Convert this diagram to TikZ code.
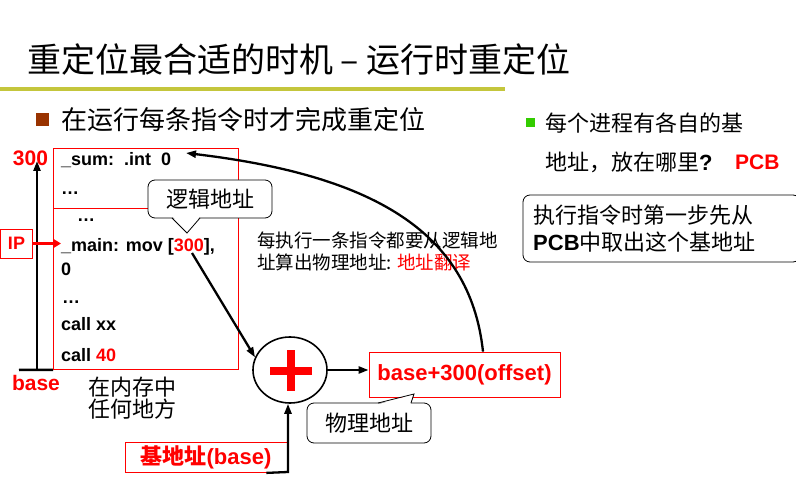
\documentclass[tikz,border=0pt]{standalone}
\usepackage{fontspec}
\setmainfont{Liberation Sans}
\newfontfamily\cjk{Noto Sans CJK SC}
\usetikzlibrary{arrows.meta,shapes.geometric}
\definecolor{rulegreen}{RGB}{196,198,60}
\definecolor{bulletbrown}{RGB}{153,51,0}
\definecolor{bulletgreen}{RGB}{51,204,0}
\newcommand{\fsz}[1]{\fontsize{#1}{#1}\selectfont}
\begin{document}
\begin{tikzpicture}[x=1pt,y=-1pt,
  code/.style={anchor=west, inner sep=0pt, font=\bfseries\fsz{18}},
  redlbl/.style={text=red, font=\bfseries\fsz{21}, inner sep=0pt},
  cjktext/.style={anchor=west, inner sep=0pt, font=\cjk\fsz{#1}},
  cjktext/.default=22,
  thickarrow/.style={line width=2.3pt, -{Triangle[length=10pt,width=7pt]}},
  callbox/.style={draw=black, fill=white, rounded corners=7pt, line width=0.8pt, inner sep=0pt},
  redbox/.style={draw=red, line width=0.8pt, inner sep=0pt},
]
\useasboundingbox (0,0) rectangle (796,484);

% heading and rule
\node[cjktext=34] (title) at (27,60) {重定位最合适的时机 – 运行时重定位};
\fill[rulegreen] (0,87.5) rectangle (505,91.5);

% first bullet
\fill[bulletbrown] (36,113) rectangle (49,126);
\node[cjktext=26] (bullet1) at (61,120) {在运行每条指令时才完成重定位};

% memory image of the program
\node[redbox, anchor=north west, minimum width=185pt, minimum height=221pt] (mem) at (53,148) {};
\draw[red, line width=0.8pt] (53,208) -- (238,208);
\node[code] (l1) at (61,160) {\_sum:\ \ .int\ \ 0};
\node[code] (l2) at (61,193) {\dots};
\node[code] (l3) at (77,220) {\dots};
\node[code] (l4) at (61,247) {\_main: mov [{\color{red}300}],};
\node[code] (l5) at (61,269.5) {0};
\node[code] (l6) at (62,302) {\dots};
\node[code] (l7) at (61,324.5) {call xx};
\node[code] (l8) at (61,355) {call {\color{red}40}};

% address axis on the left
\coordinate (axbot) at (37,370);
\coordinate (axtop) at (37,161);
\coordinate (axleft) at (19,370);
\draw[thickarrow] (axbot) -- (axtop);
\draw[line width=2.5pt] (axleft) -- (mem.south west);
\node[redlbl] (lbl300) at (30.5,158) {300};
\node[redlbl] (lblbase) at (36,383) {base};

% instruction pointer
\node[redbox, minimum width=32pt, minimum height=29pt, text=red, font=\bfseries\fsz{18}] (ip) at (16.5,243.5) {IP};
\coordinate (ipend) at (61,243.5);
\draw[red, line width=3.5pt, -{Triangle[length=7pt,width=8pt]}] (ip.east) -- (ipend);

% logical address callout
\node[callbox, minimum width=124pt, minimum height=38pt, font=\cjk\fsz{22}] (logic) at (210,199) {逻辑地址\hspace{16pt}};
\fill[white] (173,217) -- (187,233) -- (199.5,217) -- cycle;
\draw[line width=0.8pt] (172,218) -- (187,233) -- (200,218);

% explanation in the middle
\node[cjktext=18.5] (note1) at (257,240) {每执行一条指令都要从逻辑地};
\node[cjktext=18.5] (note2) at (257,262) {址算出物理地址: {\color{red}地址翻译}};

% adder
\node[draw, ellipse, line width=1.6pt, minimum width=74pt, minimum height=66pt] (adder) at (290,370) {};
\draw[red, line width=8pt] ([xshift=-20pt,yshift=-1pt]adder.center) -- ([xshift=22pt,yshift=-1pt]adder.center);
\draw[red, line width=8pt] ([xshift=1pt,yshift=20pt]adder.center) -- ([xshift=1pt,yshift=-21pt]adder.center);

\coordinate (movsrc) at (192,253);
\draw[thickarrow] (movsrc) -- (adder.160);

% physical address
\node[redbox, minimum width=191pt, minimum height=45pt, font=\bfseries\fsz{22}, text=red] (phys) at (464.5,374.5) {base+300(offset)\hspace{5pt}};
\draw[thickarrow] (adder.east) -- (adder.east -| phys.west);

\coordinate (sumtip) at (186,153);
\draw[thickarrow] ([xshift=18.5pt]phys.north) .. controls (470,230) and (370,175) .. (sumtip);

\node[callbox, minimum width=124pt, minimum height=40pt, font=\cjk\fsz{22}] (physcall) at (369,423) {物理地址\hspace{16pt}};
\fill[white] (379.5,404) -- (414,394) -- (410.5,404) -- cycle;
\draw[line width=0.8pt] (378,403) -- (414,394) -- (411,403);

% base register
\node[redbox, minimum width=162pt, minimum height=30pt, text=red] (basebox) at (206,457) {{\cjk\bfseries\fsz{22}基地址}{\bfseries\fsz{22}(base)}};
\coordinate (bstart) at ([xshift=-21pt,yshift=-0.5pt]basebox.south east);
\coordinate (bcorner) at (288,472);
\draw[thickarrow] (bstart) -- (bcorner) -- (bcorner |- adder.south);

\node[cjktext=22] (where1) at (88,387) {在内存中};
\node[cjktext=22] (where2) at (88,409) {任何地方};

% right column
\fill[bulletgreen] (526,118) rectangle (535,127);
\node[cjktext=22] (bullet2a) at (545,123) {每个进程有各自的基};
\node[anchor=west, inner sep=0pt] (bullet2b) at (545,162) {{\cjk\fsz{22}地址，放在哪里}{\bfseries\fsz{22}?}};
\node[redlbl, anchor=west] (pcb) at (735,162) {PCB};

\node[callbox, minimum width=277pt, minimum height=67pt] (step) at (661.5,228.5) {};
\node[cjktext=22] (step1) at (533,215) {执行指令时第一步先从};
\node[anchor=west, inner sep=0pt] (step2) at (533,242) {{\bfseries\fsz{22}PCB}{\cjk\fsz{22}中取出这个基地址}};
\end{tikzpicture}
\end{document}
